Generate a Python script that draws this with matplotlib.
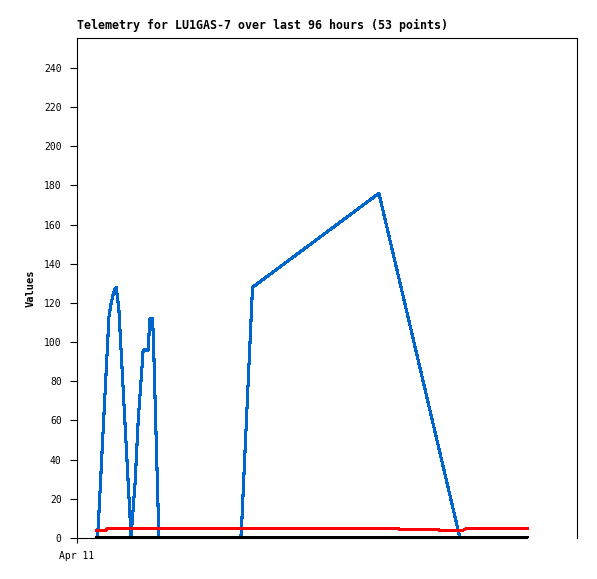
import numpy as np
import matplotlib
matplotlib.use('Agg')
import matplotlib.pyplot as plt

# hours since Apr 11 00:00
blue_t = [4.4, 4.7, 7.1, 7.6, 8.0, 8.4, 8.7, 9.3, 11.8, 12.0, 12.9, 13.6, 14.4, 14.7,
          15.8, 16.2, 16.8, 17.0, 18.2, 36.4, 36.6, 39.0, 67.1, 85.1, 100.0]
blue_v = [0, 5, 113, 120, 124, 127, 128, 117, 10, 0, 28, 60, 86, 96,
          96, 112, 112, 100, 0, 0, 7, 128, 176, 0, 0]

red_t = [4.4, 6.5, 6.6, 71.6, 71.7, 80.5, 80.6, 85.6, 86.4, 100.0]
red_v = [4.0, 4.0, 4.7, 4.7, 4.2, 4.2, 3.7, 3.7, 4.7, 4.7]

black_t = [4.4, 100.0]
black_v = [0, 0]

yticks = np.arange(0, 241, 20)
xtick_labels = ['Apr 11']

plt.rcParams['font.family'] = 'DejaVu Sans Mono'

fig = plt.figure(figsize=(5.97, 5.79), dpi=100)
ax = fig.add_axes([77/597, 1-538/579, 500/597, 500/579])

ax.plot(blue_t, blue_v, color='#0066cc', lw=1.5, antialiased=False)
ax.plot(red_t, red_v, color='#ff0000', lw=1.5, antialiased=False)
ax.plot(black_t, black_v, color='black', lw=1.5, antialiased=False, zorder=3)

ax.set_xlim(0, 500/4.5)
ax.set_ylim(0, 255.3)
ax.set_yticks(yticks)
ax.set_yticklabels([str(v) for v in yticks], fontsize=7)
ax.set_xticks([0])
ax.set_xticklabels(xtick_labels, fontsize=7)
ax.tick_params(axis='y', length=5, width=0.8, pad=6)
ax.tick_params(axis='x', length=3.6, width=0.8, pad=6)
for s in ['left', 'right', 'top']:
    ax.spines[s].set_linewidth(0.8)
ax.spines['bottom'].set_bounds(0, 100.0)
ax.spines['bottom'].set_linewidth(0.8)

ax.set_ylabel('Values', fontsize=7.5, fontweight='bold')
ax.yaxis.set_label_coords((36 - 77)/500, 0.5)

fig.text(77/597, 1-29/579, 'Telemetry for LU1GAS-7 over last 96 hours (53 points)',
         fontsize=8.35, fontweight='bold', va='baseline', ha='left')

fig.savefig('out.png', dpi=100)
plt.close()
